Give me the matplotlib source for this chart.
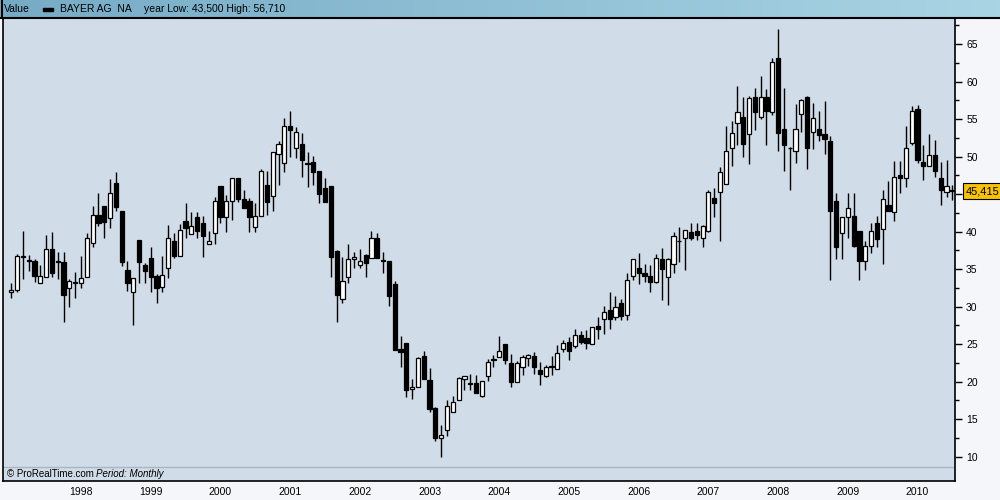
import numpy as np
import matplotlib.pyplot as plt
from matplotlib.patches import Rectangle
from matplotlib.lines import Line2D
from matplotlib.colors import LinearSegmentedColormap
import matplotlib.transforms as mtransforms

plt.rcParams['font.family'] = ['Liberation Sans', 'DejaVu Sans']

# monthly candles, Jan 1997 .. Jul 2010
opens = [31.9, 32.2, 36.6, 36.2, 36.1, 33.1, 34.0, 37.65, 36.1, 36.0, 32.45, 33.2,
         33.1, 34.0, 38.45, 42.2, 43.4, 41.8, 46.5, 42.8, 34.9, 31.9, 38.9, 35.6,
         36.45, 34.1, 32.6, 35.1, 38.7, 36.8, 41.4, 39.65, 41.9, 41.1, 38.3, 39.8,
         46.05, 41.9, 44.1, 47.1, 44.3, 44.1, 40.6, 42.1, 46.2, 44.7, 50.3, 49.1,
         54.1, 51.1, 51.65, 49.0, 49.25, 48.1, 45.8, 46.1, 37.4, 31.0, 34.0, 36.3,
         35.5, 36.9, 36.45, 39.1, 36.2, 36.1, 33.0, 24.3, 25.1, 19.0, 19.3, 23.4,
         20.2, 16.45, 12.5, 13.5, 15.9, 17.5, 20.3, 19.8, 19.8, 18.1, 20.7, 22.85,
         23.3, 25.0, 22.45, 20.0, 22.0, 23.1, 23.4, 21.56, 20.8, 22.0, 21.65, 24.3,
         25.25, 24.7, 26.2, 25.8, 25.0, 27.4, 28.3, 29.6, 28.6, 30.45, 28.9, 34.1,
         35.1, 34.45, 34.1, 33.3, 36.3, 34.0, 35.7, 38.7, 39.1, 40.0, 40.1, 39.1,
         40.1, 44.45, 45.25, 46.3, 51.1, 54.45, 55.25, 53.0, 58.0, 55.25, 58.0, 56.0,
         63.1, 53.65, 51.1, 50.8, 55.65, 57.9, 53.3, 53.7, 53.0, 52.1, 44.1, 39.8,
         42.0, 42.1, 40.1, 36.1, 38.1, 41.1, 40.3, 43.5, 42.6, 47.56, 47.1, 51.8,
         56.4, 49.3, 48.8, 50.2, 47.1, 45.3, 45.5]
highs = [33.1, 37.0, 40.1, 36.9, 36.4, 35.5, 39.6, 39.9, 37.3, 37.3, 33.65, 34.6,
         36.7, 39.8, 43.4, 45.2, 43.4, 47.0, 48.0, 42.8, 36.1, 33.8, 38.9, 35.8,
         38.0, 34.4, 36.7, 40.9, 39.8, 41.0, 43.8, 42.6, 42.6, 42.05, 40.1, 44.6,
         46.05, 44.85, 47.1, 47.1, 45.6, 44.45, 43.8, 48.3, 48.1, 50.6, 52.1, 55.1,
         56.1, 53.9, 53.1, 50.6, 50.1, 48.1, 47.1, 46.1, 37.6, 36.6, 38.4, 37.25,
         37.7, 37.0, 40.1, 39.8, 37.25, 36.1, 33.4, 26.1, 25.1, 20.3, 23.3, 24.1,
         21.8, 16.6, 14.2, 17.6, 18.1, 20.6, 20.7, 21.0, 20.9, 20.05, 23.0, 23.5,
         26.1, 25.0, 23.7, 22.75, 23.6, 23.7, 23.96, 22.6, 22.2, 23.4, 24.9, 25.6,
         26.0, 27.0, 26.8, 26.9, 27.3, 28.6, 30.1, 32.0, 31.4, 31.0, 34.45, 36.3,
         37.2, 35.7, 35.56, 37.0, 37.8, 36.45, 39.9, 40.6, 40.2, 41.1, 41.1, 40.9,
         45.56, 45.8, 48.6, 54.1, 54.7, 59.4, 57.9, 58.1, 59.1, 60.8, 59.0, 63.1,
         67.0, 59.1, 51.25, 57.0, 57.65, 58.1, 57.1, 56.1, 57.4, 52.7, 45.2, 42.0,
         45.2, 45.2, 40.1, 38.7, 41.1, 42.1, 45.6, 46.7, 49.4, 49.4, 54.1, 56.76,
         56.9, 51.56, 53.0, 52.2, 49.3, 49.56, 46.2]
lows = [31.2, 31.9, 33.7, 34.8, 33.3, 33.1, 33.9, 34.0, 33.65, 28.0, 30.0, 31.2,
        32.5, 33.9, 37.9, 40.7, 39.1, 40.5, 42.7, 35.4, 32.1, 27.56, 33.1, 33.1,
        31.9, 30.5, 32.0, 33.8, 36.5, 36.8, 39.1, 39.65, 39.1, 36.6, 38.3, 38.3,
        41.1, 40.0, 41.5, 44.0, 43.1, 40.0, 40.0, 42.1, 42.2, 42.7, 46.2, 48.0,
        50.0, 49.8, 47.3, 46.0, 46.2, 43.8, 44.0, 34.0, 28.0, 30.5, 33.1, 35.1,
        35.2, 34.0, 36.45, 36.5, 34.5, 30.1, 24.2, 22.0, 18.0, 17.7, 19.3, 20.4,
        15.9, 12.1, 9.9, 12.7, 15.9, 17.5, 18.9, 18.9, 18.5, 18.0, 20.1, 22.0,
        23.3, 22.4, 19.25, 20.0, 20.9, 22.1, 21.0, 19.6, 20.67, 20.9, 21.65, 23.9,
        22.9, 24.45, 25.0, 24.4, 25.0, 25.7, 26.4, 27.0, 28.2, 28.2, 28.2, 33.56,
        33.0, 33.3, 32.0, 33.1, 30.9, 30.2, 34.45, 36.0, 34.9, 38.9, 38.9, 38.0,
        40.0, 42.0, 38.8, 46.3, 48.7, 51.56, 50.0, 49.0, 53.56, 55.0, 51.56, 55.56,
        50.8, 48.1, 45.56, 49.1, 53.25, 48.4, 51.0, 52.1, 50.4, 33.5, 36.3, 36.3,
        39.2, 37.9, 33.6, 34.9, 37.1, 38.0, 35.65, 42.7, 41.4, 45.1, 45.9, 51.56,
        49.1, 46.9, 48.7, 47.3, 43.5, 44.6, 44.2]
closes = [32.2, 36.7, 36.7, 36.1, 34.1, 34.05, 37.65, 34.5, 36.0, 31.5, 33.4, 33.2,
          33.8, 39.1, 42.2, 41.2, 41.3, 45.2, 43.3, 35.9, 33.1, 33.8, 36.0, 34.7,
          33.9, 32.5, 34.2, 39.1, 36.8, 40.2, 40.5, 40.7, 40.1, 39.4, 38.7, 44.05,
          41.9, 44.05, 47.1, 44.3, 43.1, 42.0, 42.1, 48.1, 44.0, 50.6, 51.65, 54.1,
          53.5, 53.3, 49.56, 49.1, 48.0, 45.0, 44.0, 36.6, 31.5, 33.4, 36.3, 36.6,
          36.1, 35.8, 39.1, 36.5, 36.1, 31.4, 24.2, 24.0, 18.9, 19.25, 23.1, 20.4,
          16.4, 12.5, 12.85, 16.8, 17.25, 20.45, 20.7, 19.7, 18.5, 20.05, 22.6, 22.95,
          24.1, 22.9, 20.0, 22.45, 23.25, 23.6, 22.0, 20.98, 22.0, 22.1, 23.8, 25.1,
          24.1, 26.2, 25.25, 25.1, 27.25, 27.0, 29.25, 28.3, 30.0, 28.7, 33.6, 36.3,
          34.5, 34.1, 33.3, 36.45, 35.0, 36.3, 39.4, 38.8, 40.2, 39.1, 39.5, 40.76,
          45.25, 43.8, 48.0, 50.76, 53.2, 55.9, 51.65, 57.8, 55.9, 58.0, 56.1, 62.6,
          53.1, 51.5, 51.2, 53.65, 57.56, 51.2, 55.1, 52.9, 52.4, 42.7, 38.0, 42.0,
          43.1, 38.1, 36.1, 38.1, 40.1, 39.0, 44.4, 42.8, 47.3, 47.2, 51.1, 56.1,
          49.5, 48.7, 50.2, 48.1, 45.5, 46.1, 45.415]
years = list(range(1998, 2011))
year_pos = [12 * (y - 1997) for y in years]
price_ticks = list(range(10, 70, 5))
last_label = '45,415'

o = np.array(opens)
h = np.array(highs)
l = np.array(lows)
c = np.array(closes)
x = np.arange(len(o))

fig = plt.figure(figsize=(10, 5), dpi=100)
fig.patch.set_facecolor('#f4f6f9')

ax = fig.add_axes([0.003, 0.038, 0.952, 0.926])
ax.set_facecolor('#d0dde8')

# wicks and bodies
ax.vlines(x, l, h, color='black', lw=1.0, zorder=2)
up = c >= o
body = np.maximum(np.abs(c - o), 0.12)
ax.bar(x, body, bottom=np.minimum(o, c), width=0.72,
       color=np.where(up, 'white', 'black'), edgecolor='black',
       linewidth=0.9, zorder=3)

ax.set_xlim(-1.43, 162.45)
ax.set_ylim(6.76, 68.49)

ax.yaxis.tick_right()
ax.set_yticks(price_ticks)
# the 45 label sits under the last-price tag
ax.set_yticklabels(['' if t == 45 else str(t) for t in price_ticks])
ax.set_yticks(np.arange(12.5, 68, 5), minor=True)
ax.tick_params(axis='y', which='major', length=5, width=1, pad=3,
               labelsize=7.5, colors='black')
ax.tick_params(axis='y', which='minor', length=3, width=1)
ax.set_xticks(year_pos)
ax.set_xticklabels([str(y) for y in years])
ax.tick_params(axis='x', length=0, pad=4.5, labelsize=7.5)
for s in ax.spines.values():
    s.set_color('black')
    s.set_linewidth(1.2)

# footer strip inside the plot
ax.axhline(8.63, color='#a9b6c2', lw=1, zorder=1)
ax.text(0.004, 0.016, '\u00a9 ProRealTime.com', transform=ax.transAxes,
        fontsize=7, va='center', ha='left')
ax.text(0.098, 0.016, 'Period: Monthly', transform=ax.transAxes,
        fontsize=7, va='center', ha='left', style='italic')

# last price tag
trans = mtransforms.blended_transform_factory(ax.transAxes, ax.transData)
ax.text(1.0118, c[-1], last_label, transform=trans, ha='left', va='center',
        fontsize=8, color='black', clip_on=False, zorder=5,
        bbox=dict(boxstyle='square,pad=0.28', fc='#f8c300', ec='black', lw=0.8))

# header bar
hax = fig.add_axes([0, 0.964, 1, 0.036])
grad = np.linspace(0, 1, 256).reshape(1, -1)
cmap = LinearSegmentedColormap.from_list('hdr', ['#76abc6', '#a9d4e4'])
hax.imshow(grad, aspect='auto', cmap=cmap, extent=[0, 1, 0, 1])
hax.set_xlim(0, 1)
hax.set_ylim(0, 1)
hax.axis('off')
hax.text(0.004, 0.5, 'Value', fontsize=7.5, va='center', ha='left')
hax.add_patch(Rectangle((0.043, 0.38), 0.010, 0.2, color='black'))
hax.text(0.060, 0.5, 'BAYER AG  NA', fontsize=7.5, va='center', ha='left')
hax.text(0.144, 0.5, 'year Low: 43,500 High: 56,710', fontsize=7.5,
         va='center', ha='left')
fig.add_artist(Line2D([0, 1], [0.964, 0.964], color='black', lw=1.5))
fig.add_artist(Line2D([0.0015, 0.0015], [0.964, 1], color='black', lw=1.5))

fig.savefig('out.png', dpi=100, facecolor=fig.get_facecolor())
